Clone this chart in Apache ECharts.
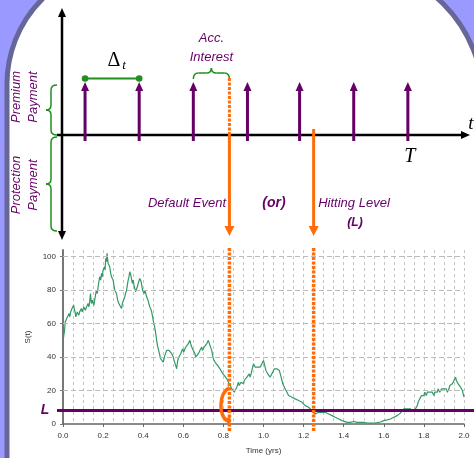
<!DOCTYPE html>
<html>
<head>
<meta charset="utf-8">
<script src="https://cdn.jsdelivr.net/npm/echarts@6/dist/echarts.min.js"></script>
<style>
  html, body { margin: 0; padding: 0; background: #9999ff; }
  #main { width: 474px; height: 458px; }
</style>
</head>
<body>
<div id="main"></div>
<script>
// simulated price path S(t)
var times = [
  0.000, 0.004, 0.008, 0.011, 0.015, 0.018, 0.022, 0.026, 0.030, 0.034,
  0.038, 0.042, 0.045, 0.049, 0.053, 0.056, 0.060, 0.064, 0.067, 0.071,
  0.075, 0.079, 0.083, 0.088, 0.092, 0.096, 0.100, 0.104, 0.108, 0.112,
  0.117, 0.121, 0.125, 0.129, 0.133, 0.137, 0.140, 0.142, 0.146, 0.150,
  0.154, 0.158, 0.162, 0.167, 0.171, 0.175, 0.179, 0.183, 0.188, 0.192,
  0.196, 0.200, 0.204, 0.207, 0.210, 0.213, 0.217, 0.220, 0.222, 0.225,
  0.229, 0.233, 0.238, 0.242, 0.246, 0.250, 0.254, 0.258, 0.262, 0.267,
  0.271, 0.275, 0.279, 0.283, 0.288, 0.292, 0.296, 0.300, 0.304, 0.308,
  0.312, 0.317, 0.321, 0.325, 0.329, 0.333, 0.338, 0.342, 0.346, 0.350,
  0.354, 0.358, 0.362, 0.367, 0.371, 0.375, 0.379, 0.383, 0.387, 0.390,
  0.394, 0.397, 0.401, 0.405, 0.409, 0.413, 0.417, 0.420, 0.424, 0.428,
  0.433, 0.437, 0.440, 0.444, 0.447, 0.450, 0.453, 0.457, 0.460, 0.464,
  0.467, 0.471, 0.475, 0.479, 0.483, 0.487, 0.490, 0.495, 0.500, 0.504,
  0.508, 0.512, 0.517, 0.521, 0.525, 0.529, 0.533, 0.538, 0.542, 0.546,
  0.550, 0.554, 0.558, 0.562, 0.567, 0.570, 0.572, 0.575, 0.578, 0.582,
  0.587, 0.592, 0.597, 0.602, 0.607, 0.612, 0.617, 0.621, 0.625, 0.629,
  0.633, 0.637, 0.642, 0.646, 0.650, 0.654, 0.658, 0.662, 0.667, 0.671,
  0.675, 0.679, 0.683, 0.688, 0.692, 0.696, 0.700, 0.704, 0.708, 0.712,
  0.717, 0.721, 0.725, 0.729, 0.733, 0.738, 0.742, 0.746, 0.750, 0.754,
  0.758, 0.762, 0.767, 0.771, 0.775, 0.779, 0.783, 0.788, 0.792, 0.796,
  0.800, 0.804, 0.808, 0.812, 0.817, 0.821, 0.825, 0.829, 0.833, 0.838,
  0.842, 0.846, 0.850, 0.854, 0.858, 0.862, 0.867, 0.871, 0.875, 0.879,
  0.883, 0.888, 0.892, 0.896, 0.900, 0.904, 0.908, 0.912, 0.917, 0.921,
  0.925, 0.929, 0.933, 0.938, 0.942, 0.946, 0.950, 0.954, 0.958, 0.962,
  0.967, 0.971, 0.975, 0.979, 0.983, 0.988, 0.992, 0.996, 1.000, 1.004,
  1.008, 1.012, 1.017, 1.021, 1.025, 1.029, 1.033, 1.038, 1.042, 1.046,
  1.050, 1.054, 1.058, 1.062, 1.067, 1.071, 1.075, 1.079, 1.083, 1.088,
  1.092, 1.096, 1.100, 1.108, 1.117, 1.125, 1.133, 1.142, 1.150, 1.158,
  1.167, 1.175, 1.183, 1.192, 1.200, 1.208, 1.217, 1.225, 1.233, 1.242,
  1.250, 1.258, 1.267, 1.275, 1.283, 1.292, 1.300, 1.308, 1.317, 1.325,
  1.333, 1.342, 1.350, 1.358, 1.367, 1.375, 1.383, 1.392, 1.400, 1.417,
  1.433, 1.450, 1.467, 1.483, 1.500, 1.517, 1.533, 1.550, 1.567, 1.583,
  1.600, 1.617, 1.633, 1.650, 1.667, 1.683, 1.692, 1.700, 1.708, 1.717,
  1.725, 1.733, 1.742, 1.750, 1.758, 1.767, 1.771, 1.775, 1.779, 1.783,
  1.788, 1.792, 1.796, 1.800, 1.804, 1.808, 1.812, 1.817, 1.821, 1.825,
  1.829, 1.833, 1.838, 1.842, 1.846, 1.850, 1.854, 1.858, 1.862, 1.867,
  1.871, 1.875, 1.879, 1.883, 1.888, 1.892, 1.896, 1.900, 1.904, 1.908,
  1.912, 1.917, 1.921, 1.925, 1.929, 1.933, 1.938, 1.942, 1.946, 1.950,
  1.954, 1.958, 1.962, 1.967, 1.971, 1.975, 1.979, 1.983, 1.988, 1.992,
  1.996, 2.000
];
var values = [
  49, 53, 56, 61, 62, 60, 64, 63, 66, 64,
  67, 66, 69, 68, 71, 69, 67, 64, 65, 67,
  68, 65, 67, 66, 69, 67, 68, 70, 71, 68,
  70, 71, 72, 70, 73, 78, 74, 72, 74, 73,
  71, 74, 77, 80, 78, 82, 85, 88, 86, 90,
  88, 92, 91, 94, 92, 99, 97, 102, 99, 96,
  97, 94, 90, 88, 89, 86, 83, 80, 81, 78,
  75, 73, 74, 71, 70, 69, 72, 71, 73, 76,
  78, 80, 83, 86, 88, 91, 89, 88, 84, 86,
  83, 82, 79, 80, 82, 84, 83, 87, 86, 85,
  82, 80, 81, 78, 80, 79, 76, 77, 74, 72,
  70, 71, 68, 66, 64, 62, 60, 58, 56, 53,
  50, 47, 45, 43, 42, 39, 40, 38, 37, 39,
  41, 42, 44, 43, 45, 44, 43, 44, 42, 41,
  40, 38, 37, 35, 33, 36, 38, 39, 40, 41,
  42, 43, 45, 43, 44, 46, 47, 46, 48, 47,
  50, 48, 46, 45, 44, 43, 42, 40, 40, 41,
  42, 41, 44, 43, 46, 44, 45, 46, 47, 45,
  48, 47, 50, 49, 47, 46, 44, 41, 39, 38,
  37, 38, 36, 35, 35, 34, 33, 32, 31, 31,
  30, 29, 28, 28, 27, 26, 25, 24, 23, 22,
  21, 21, 20, 19, 18, 20, 22, 21, 25, 23,
  24, 25, 26, 24, 24, 26, 27, 26, 28, 27,
  29, 30, 28, 30, 32, 34, 36, 35, 34, 35,
  33, 34, 35, 33, 34, 35, 36, 37, 38, 36,
  34, 32, 31, 30, 30, 29, 28, 28, 29, 31,
  32, 33, 34, 32, 33, 32, 34, 32, 31, 28,
  26, 24, 23, 21, 19, 17, 17, 16, 15, 15,
  14, 14, 13, 13, 12, 11, 11, 10, 9, 8,
  7, 6, 6, 7, 6, 7, 8, 7, 6, 6,
  5, 5, 5, 4, 4, 3, 2.5, 2, 1.5, 1,
  1, 1.5, 1, 1, 1, 0.6, 0.5, 0.6, 0.8, 1.2,
  2, 2.5, 3, 4, 5, 6.5, 7, 9, 10, 9,
  8.5, 9, 8, 7.5, 7.5, 11, 13, 14, 15, 15,
  17, 16, 17, 17, 19, 18, 17, 19, 20, 18,
  19, 20, 18, 19, 18, 17, 19, 18, 20, 19,
  21, 20, 19, 19, 21, 20, 22, 21, 20, 20,
  21, 19, 20, 21, 23, 22, 23, 24, 25, 26,
  27, 28, 26, 25, 24, 23, 24, 22, 21, 20,
  18, 16
];
var payTimes = [0.11, 0.38, 0.65, 0.92, 1.18, 1.45, 1.72];
var defaultTime = 0.83;
var hitTime = 1.25;
var levelL = 8;
var gridLevels = [20, 40, 60, 80, 100];

var purple = '#660066';
var orange = '#ff6c0a';
var green = '#1f8f1f';
var sans = 'Liberation Sans';
var serif = 'Liberation Serif';

var chart = echarts.init(document.getElementById('main'));

chart.setOption({
  backgroundColor: '#9999ff',
  animation: false,
  grid: { left: 63, right: 10, top: 250, bottom: 34 },
  xAxis: {
    type: 'value',
    min: 0,
    max: 2,
    interval: 0.2,
    name: 'Time (yrs)',
    nameLocation: 'middle',
    nameGap: 23,
    nameTextStyle: { fontSize: 8, color: '#333', fontFamily: sans },
    axisLine: { lineStyle: { color: '#666', width: 1.5 } },
    axisTick: { length: 3, lineStyle: { color: '#666' } },
    minorTick: { show: false, splitNumber: 4 },
    axisLabel: {
      fontSize: 8, color: '#333', margin: 8, fontFamily: sans,
      formatter: function (v) { return v.toFixed(1); }
    },
    splitLine: { show: true, lineStyle: { color: '#c4c4c4', type: [3, 3] } },
    minorSplitLine: { show: true, lineStyle: { color: '#c4c4c4', type: [3, 3] } }
  },
  yAxis: {
    type: 'value',
    min: 0,
    max: 104,
    interval: 20,
    name: 'S(t)',
    nameLocation: 'middle',
    nameGap: 25,
    nameTextStyle: { fontSize: 8, color: '#333', fontFamily: sans },
    axisLine: { show: true, lineStyle: { color: '#777', width: 2 } },
    axisTick: { show: true, length: 3, lineStyle: { color: '#777' } },
    axisLabel: { fontSize: 8, color: '#333', margin: 7, fontFamily: sans, showMaxLabel: false },
    splitLine: { show: false }
  },
  series: [{
    type: 'line',
    data: times.map(function (t, i) { return [t, values[i]]; }),
    showSymbol: false,
    lineStyle: { color: '#339966', width: 1.2 },
    markLine: {
      silent: true,
      symbol: 'none',
      label: { show: false },
      lineStyle: { color: '#bbb', type: [5, 3], width: 1 },
      data: gridLevels.map(function (v) { return { yAxis: v }; })
    }
  }]
});

function px(t) { return chart.convertToPixel({ xAxisIndex: 0 }, t); }
function py(v) { return chart.convertToPixel({ yAxisIndex: 0 }, v); }

function seg(x1, y1, x2, y2, color, width, dash) {
  return {
    type: 'line', z: 5, silent: true,
    shape: { x1: x1, y1: y1, x2: x2, y2: y2 },
    style: { stroke: color, lineWidth: width, lineDash: dash || null }
  };
}
function head(x, y, dir, w, len, color) {
  var pts;
  if (dir === 'up') pts = [[x, y], [x - w, y + len], [x + w, y + len]];
  else if (dir === 'down') pts = [[x, y], [x - w, y - len], [x + w, y - len]];
  else pts = [[x, y], [x - len, y - w], [x - len, y + w]];
  return { type: 'polygon', z: 6, silent: true, shape: { points: pts }, style: { fill: color } };
}
function curve(x1, y1, cx, cy, x2, y2, color, width) {
  return {
    type: 'bezierCurve', z: 5, silent: true,
    shape: { x1: x1, y1: y1, cpx1: cx, cpy1: cy, x2: x2, y2: y2 },
    style: { stroke: color, lineWidth: width, fill: null }
  };
}
function label(text, x, y, font, color, rot) {
  return {
    type: 'text', z: 7, silent: true, x: x, y: y, rotation: rot || 0,
    style: { text: text, font: font, fill: color, align: 'center', verticalAlign: 'middle' }
  };
}
// curly brace, vertical, tip pointing left
function vBrace(x, y0, y1, color) {
  var ym = (y0 + y1) / 2, h = 5, xr = x + 6, xl = x - 5;
  return [
    curve(xr, y0, x, y0, x, y0 + h, color, 1.5),
    seg(x, y0 + h, x, ym - h, color, 1.5),
    curve(x, ym - h, x, ym, xl, ym, color, 1.5),
    curve(xl, ym, x, ym, x, ym + h, color, 1.5),
    seg(x, ym + h, x, y1 - h, color, 1.5),
    curve(x, y1 - h, x, y1, xr, y1, color, 1.5)
  ];
}
// curly brace, horizontal, tip pointing up
function hBrace(x0, x1, y, color) {
  var xm = (x0 + x1) / 2, h = 5, yd = y + 6, yu = y - 5;
  return [
    curve(x0, yd, x0, y, x0 + h, y, color, 1.5),
    seg(x0 + h, y, xm - h, y, color, 1.5),
    curve(xm - h, y, xm, y, xm, yu, color, 1.5),
    curve(xm, yu, xm, y, xm + h, y, color, 1.5),
    seg(xm + h, y, x1 - h, y, color, 1.5),
    curve(x1 - h, y, x1, y, x1, yd, color, 1.5)
  ];
}

var els = [];
// slide frame
els.push({
  type: 'rect', z: -10, silent: true,
  shape: { x: 7, y: -36, width: 476, height: 530, r: [120, 136, 0, 0] },
  style: { fill: '#fff', stroke: '#666699', lineWidth: 5 }
});

// time line diagram
var x0 = px(0) - 1, axisY = 135;
els.push(seg(x0, 16, x0, 232, '#000', 2.5));
els.push(head(x0, 8, 'up', 4, 9, '#000'));
els.push(head(x0, 240, 'down', 4, 9, '#000'));
els.push(seg(57, axisY, 462, axisY, '#000', 2.5));
els.push(head(470, axisY, 'right', 4, 9, '#000'));
els.push(label('t', 471, 124, 'italic 19px ' + serif, '#000'));

payTimes.forEach(function (t) {
  var x = px(t);
  els.push(seg(x, 141, x, 90, purple, 3));
  els.push(head(x, 82, 'up', 4, 9, purple));
});
var tEnd = px(payTimes[payTimes.length - 1]);
els.push(label('T', tEnd + 2, 157, 'italic 20px ' + serif, '#000'));

// delta t marker
var xa = px(payTimes[0]), xb = px(payTimes[1]);
els.push(seg(xa, 78.5, xb, 78.5, green, 2));
els.push({ type: 'circle', z: 6, silent: true, shape: { cx: xa, cy: 78.5, r: 3.3 }, style: { fill: green } });
els.push({ type: 'circle', z: 6, silent: true, shape: { cx: xb, cy: 78.5, r: 3.3 }, style: { fill: green } });
els.push(label('\u0394', 114, 61, '20px ' + serif, '#000'));
els.push(label('t', 124, 66, 'italic 13px ' + serif, '#000'));

// accrued interest
var xd = px(defaultTime), xh = px(hitTime);
els = els.concat(hBrace(px(payTimes[2]), xd, 73, green));
els.push(label('Acc.', (px(payTimes[2]) + xd) / 2, 38, 'italic 13px ' + sans, purple));
els.push(label('Interest', (px(payTimes[2]) + xd) / 2, 57, 'italic 13px ' + sans, purple));

// default / hitting arrows
els.push(seg(xd, 78, xd, axisY, orange, 3, [3, 1.5]));
els.push(seg(xd, axisY, xd, 228, orange, 3));
els.push(head(xd, 236, 'down', 5, 10, orange));
els.push(seg(xh, 129, xh, 228, orange, 3));
els.push(head(xh, 236, 'down', 5, 10, orange));
els.push(label('Default Event', 187, 203, 'italic 13px ' + sans, purple));
els.push(label('(or)', 274, 203, 'bold italic 14px ' + sans, purple));
els.push(label('Hitting Level', 354, 203, 'italic 13px ' + sans, purple));
els.push(label('(L)', 355, 223, 'bold italic 12px ' + sans, purple));

// left legend
els = els.concat(vBrace(51, 85, 135, green));
els = els.concat(vBrace(51, 137, 231, green));
els.push(label('Premium', 16, 97, 'italic 13px ' + sans, purple, Math.PI / 2));
els.push(label('Payment', 33, 97, 'italic 13px ' + sans, purple, Math.PI / 2));
els.push(label('Protection', 16, 185, 'italic 13px ' + sans, purple, Math.PI / 2));
els.push(label('Payment', 33, 185, 'italic 13px ' + sans, purple, Math.PI / 2));

// level L and event markers on the price chart
var yL = py(levelL);
els.push(seg(57, yL, 474, yL, purple, 3));
els.push(label('L', 45, yL, 'bold italic 14px ' + sans, purple));
els.push(seg(xd, 248, xd, 432, orange, 3.5, [3, 1.5]));
els.push(seg(xh, 248, xh, 432, orange, 3.5, [3, 1.5]));
var yHit = py(values[times.indexOf(0.833)]);
els.push({
  type: 'bezierCurve', z: 8, silent: true,
  shape: { x1: xd, y1: yHit + 2, cpx1: xd - 11, cpy1: yHit + 8, cpx2: xd - 11, cpy2: yL + 6, x2: xd - 2, y2: yL + 10 },
  style: { stroke: orange, lineWidth: 3.5, fill: null }
});
els.push({ type: 'polygon', z: 8, silent: true, shape: { points: [[xd + 1, yL + 15], [xd - 6, yL + 9], [xd + 1, yL + 6]] }, style: { fill: orange } });

chart.setOption({ graphic: { elements: els } });
</script>
</body>
</html>
